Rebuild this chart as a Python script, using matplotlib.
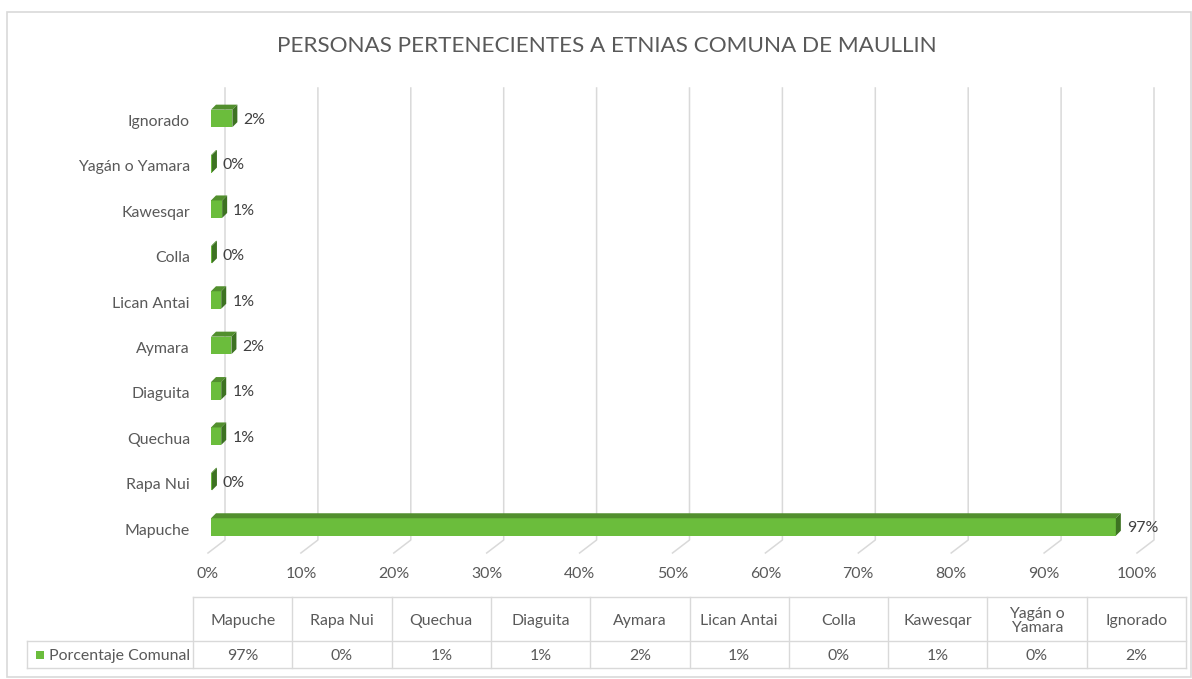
import matplotlib
matplotlib.use("Agg")
import matplotlib.pyplot as plt
from matplotlib.patches import Polygon, Rectangle

plt.rcParams["font.family"] = ["Lato", "DejaVu Sans"]

title = "PERSONAS PERTENECIENTES A ETNIAS COMUNA DE MAULLIN"
categories = ["Mapuche", "Rapa Nui", "Quechua", "Diaguita", "Aymara",
              "Lican Antai", "Colla", "Kawesqar", "Yagán o Yamara", "Ignorado"]
table_headers = ["Mapuche", "Rapa Nui", "Quechua", "Diaguita", "Aymara",
                 "Lican Antai", "Colla", "Kawesqar", "Yagán o\nYamara", "Ignorado"]
values = [97.4, 0.1, 1.1, 1.1, 2.2, 1.1, 0.1, 1.2, 0.1, 2.3]
series_name = "Porcentaje Comunal"
x_ticks = [0, 10, 20, 30, 40, 50, 60, 70, 80, 90, 100]

W, H = 1192, 679
FRONT = "#6BBD3C"
TOP = "#528F2E"
SIDE = "#3D7222"
GRID = "#D9D9D9"
TXT = "#595959"
FS = 11.4

# pixel geometry of the front plane
x0_px, x100_px = 208, 1137
y_bot_px, y_top_px = 553, 101
cat0_px, cat_step = 529, 45.4
xs = (x100_px - x0_px) / 100.0
ylo = (cat0_px - y_bot_px) / cat_step
yhi = (cat0_px - y_top_px) / cat_step

fig = plt.figure(figsize=(W / 100, H / 100), dpi=100)
ax = fig.add_axes([x0_px / W, (H - y_bot_px) / H,
                   (x100_px - x0_px) / W, (y_bot_px - y_top_px) / H])
ax.set_xlim(0, 100)
ax.set_ylim(ylo, yhi)


def px(dx=0, dy=0):
    # pixel offsets -> data offsets (dy positive = up)
    return dx / xs, dy / cat_step


# back wall gridlines with floor diagonals
gdx, gdy = px(17, 13)
for t in x_ticks:
    ax.plot([t, t + gdx, t + gdx], [ylo, ylo + gdy, yhi + gdy],
            color=GRID, lw=1.1, clip_on=False, zorder=1)

# 3D-looking bars
bx, by = px(3, 2)
dx, dy = px(5, 5)
h = 17.5 / cat_step
for i, v in enumerate(values):
    yc = i + by
    yb, yt = yc - h / 2, yc + h / 2
    ax.add_patch(Rectangle((bx, yb), v, h, facecolor=FRONT, edgecolor="none", zorder=3))
    ax.add_patch(Polygon([(bx, yt), (bx + v, yt), (bx + v + dx, yt + dy), (bx + dx, yt + dy)],
                         closed=True, facecolor=TOP, edgecolor="none", zorder=3))
    ax.add_patch(Polygon([(bx + v, yb), (bx + v, yt), (bx + v + dx, yt + dy), (bx + v + dx, yb + dy)],
                         closed=True, facecolor=SIDE, edgecolor="none", zorder=3))
    ax.text(bx + v + dx + px(6)[0], yc - px(0, 1.5)[1], f"{v:.0f}%", ha="left", va="center",
            fontsize=FS, color="#404040", zorder=4)

ax.set_yticks(range(len(categories)))
ax.set_yticklabels(categories, fontsize=FS, color=TXT)
ax.set_xticks(x_ticks)
ax.set_xticklabels([f"{t}%" for t in x_ticks], fontsize=FS, color=TXT)
ax.tick_params(axis="y", length=0, pad=13)
ax.tick_params(axis="x", length=0, pad=10)
for s in ax.spines.values():
    s.set_visible(False)
ax.patch.set_alpha(0)

fig.text(607 / W, 1 - 46 / H, title, ha="center", va="center", fontsize=16.2, color=TXT)

# data table below the chart, drawn on an overlay in pixel coordinates
tb = fig.add_axes([0, 0, 1, 1], zorder=-1)
tb.set_xlim(0, W)
tb.set_ylim(H, 0)
tb.axis("off")
lc = "#D9D9D9"
tb.add_patch(Rectangle((7, 12), W - 8, H - 12 - 2, fill=False, edgecolor="#D9D9D9", lw=1.2))
t_left, t_right = 193, 1186
r0, r1, r2 = 597, 641, 668
cw = (t_right - t_left) / len(categories)
tb.plot([t_left, t_right], [r0, r0], color=lc, lw=1)
tb.plot([27, t_right], [r1, r1], color=lc, lw=1)
tb.plot([27, t_right], [r2, r2], color=lc, lw=1)
tb.plot([27, 27], [r1, r2], color=lc, lw=1)
for k in range(len(categories) + 1):
    xk = t_left + k * cw
    tb.plot([xk, xk], [r0, r2], color=lc, lw=1)
for k, (hd, v) in enumerate(zip(table_headers, values)):
    xc = t_left + (k + 0.5) * cw
    tb.text(xc, (r0 + r1) / 2 + 2, hd, ha="center", va="center", fontsize=FS,
            color=TXT, linespacing=0.95)
    tb.text(xc, (r1 + r2) / 2 + 1.5, f"{v:.0f}%", ha="center", va="center", fontsize=FS, color=TXT)
tb.add_patch(Rectangle((36, 651), 8, 8, facecolor=FRONT, edgecolor="none"))
tb.text(49, (r1 + r2) / 2 + 1.5, series_name, ha="left", va="center", fontsize=FS, color=TXT)

fig.savefig("out.png", dpi=100)
